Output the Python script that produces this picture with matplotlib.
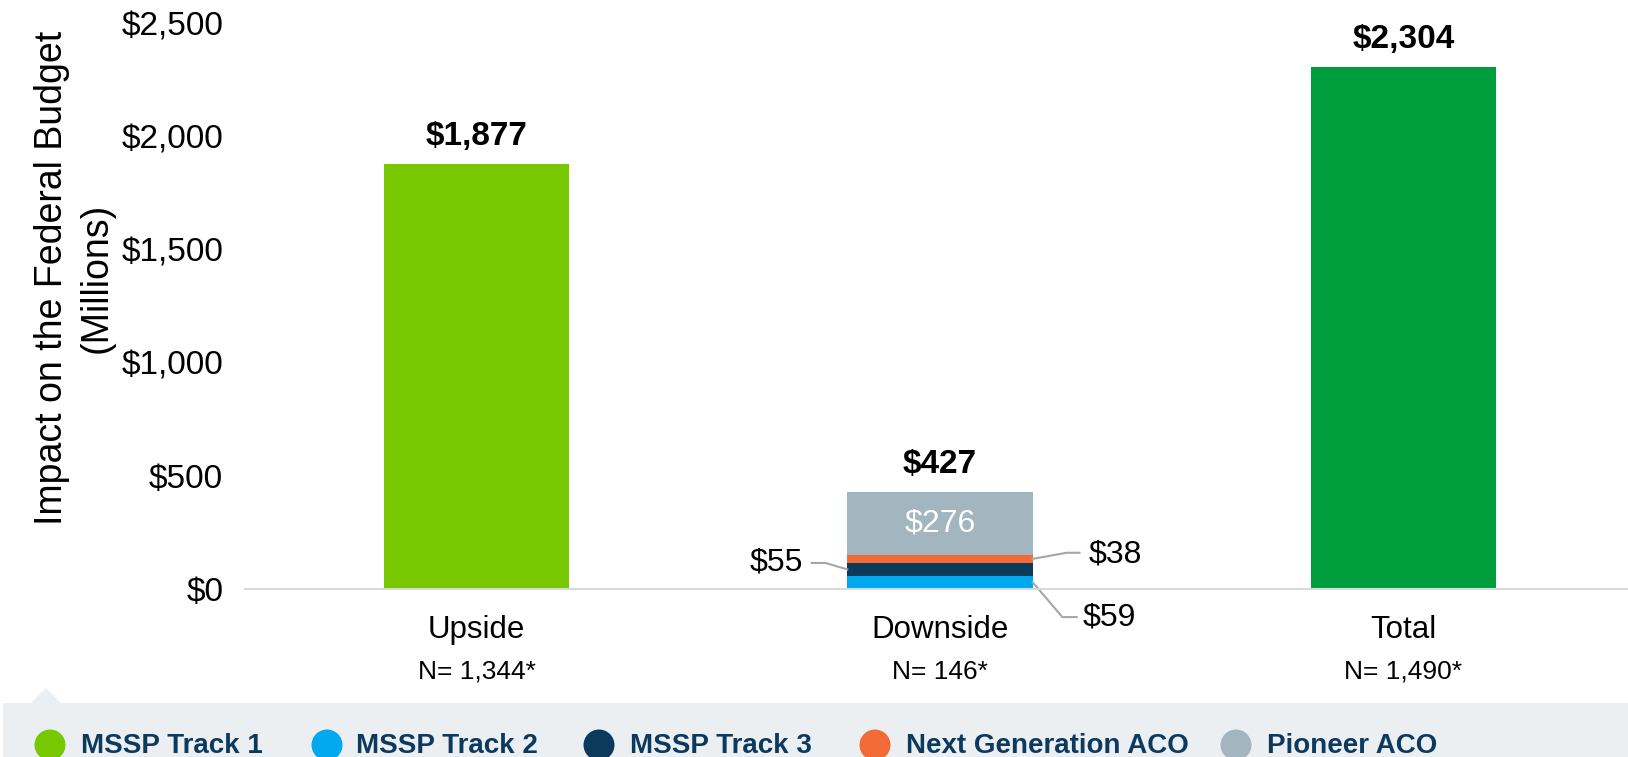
import matplotlib
matplotlib.use("Agg")
import matplotlib.pyplot as plt
from matplotlib.patches import Rectangle, Polygon, Circle

plt.rcParams['font.family'] = ['Liberation Sans', 'DejaVu Sans']

# ---------------- data ----------------
categories = ["Upside", "Downside", "Total"]
n_labels = ["N= 1,344*", "N= 146*", "N= 1,490*"]
upside_value = 1877
total_value = 2304
downside_segments = [59, 55, 38, 276]          # Track 2, Track 3, Next Gen, Pioneer
downside_total_label = "$427"
bar_total_labels = ["$1,877", "$427", "$2,304"]
segment_labels = ["$59", "$55", "$38", "$276"]
legend_names = ["MSSP Track 1", "MSSP Track 2", "MSSP Track 3",
                "Next Generation ACO", "Pioneer ACO"]
yticks = [0, 500, 1000, 1500, 2000, 2500]

# ---------------- style ----------------
c_track1 = "#77C800"
c_track2 = "#00A9EF"
c_track3 = "#0B3A5B"
c_nextgen = "#F26B36"
c_pioneer = "#A3B6BF"
c_total = "#009D3D"
legend_colors = [c_track1, c_track2, c_track3, c_nextgen, c_pioneer]
seg_colors = [c_track2, c_track3, c_nextgen, c_pioneer]
navy_text = "#0B3A5E"

W, H = 1628, 757
fig = plt.figure(figsize=(W / 100, H / 100), dpi=100)

# overlay axes in pixel coordinates for the legend panel
ov = fig.add_axes([0, 0, 1, 1], zorder=0)
ov.set_xlim(0, W)
ov.set_ylim(H, 0)
ov.axis("off")
ov.patch.set_alpha(0)

# main axes
px_per_unit = 463.5
left_px = 244.75
base_px = 589
top_px = 23
ax = fig.add_axes([left_px / W, 1 - base_px / H, 3 * px_per_unit / W,
                   (base_px - top_px) / H], zorder=1)
ax.patch.set_alpha(0)

x = list(range(len(categories)))
bw = 0.40

ax.bar(x[0], upside_value, width=bw, color=c_track1)
bottom = 0
for v, c in zip(downside_segments, seg_colors):
    ax.bar(x[1], v, width=bw, bottom=bottom, color=c)
    bottom += v
ax.bar(x[2], total_value, width=bw, color=c_total)

ax.set_xlim(-0.5, 2.5)
ax.set_ylim(0, 2500)
ax.set_yticks(yticks)
ax.set_yticklabels([f"${t:,}" for t in yticks])
ax.tick_params(axis='y', length=0, pad=15.5, labelsize=24)
ax.set_xticks([])
for s in ["top", "right", "left"]:
    ax.spines[s].set_visible(False)
ax.spines["bottom"].set_color("#D9D9D9")
ax.spines["bottom"].set_linewidth(1.5)

# bar total labels
heights = [upside_value, sum(downside_segments), total_value]
for xi, h, lab in zip(x, heights, bar_total_labels):
    ax.annotate(lab, xy=(xi, h), xytext=(0, 14), textcoords="offset points",
                ha="center", va="baseline", fontsize=24, fontweight="bold",
                annotation_clip=False)

# category labels
for xi, cat, nl in zip(x, categories, n_labels):
    ax.annotate(cat, xy=(xi, 0), xycoords=("data", "axes fraction"),
                xytext=(0, -35), textcoords="offset points", ha="center",
                va="baseline", fontsize=22.5, annotation_clip=False)
    ax.annotate(nl, xy=(xi, 0), xycoords=("data", "axes fraction"),
                xytext=(0, -64.6), textcoords="offset points", ha="center",
                va="baseline", fontsize=19, annotation_clip=False)

# downside segment labels
cum = [0]
for v in downside_segments:
    cum.append(cum[-1] + v)
mids = [(cum[i] + cum[i + 1]) / 2 for i in range(len(downside_segments))]
xl = x[1] - bw / 2
xr = x[1] + bw / 2
line_kw = dict(color="#A6A6A6", lw=1.5, clip_on=False)

# $276 inside
ax.text(x[1], mids[3], segment_labels[3], ha="center", va="center",
        fontsize=23, color="white")

# $55 (left)
y55 = 115
ax.plot([xl, xl - 0.047, xl - 0.077], [mids[1], y55, y55], **line_kw)
ax.text(xl - 0.096, y55, segment_labels[1], ha="right", va="center", fontsize=23)

# $38 (right, upper)
y38 = 160
ax.plot([xr, xr + 0.073, xr + 0.101], [mids[2], y38, y38], **line_kw)
ax.text(xr + 0.12, y38 - 8, segment_labels[2], ha="left", va="center", fontsize=23)

# $59 (right, lower)
y59 = -124
ax.plot([xr, xr + 0.064, xr + 0.095], [mids[0], y59, y59], **line_kw)
ax.text(xr + 0.107, y59, segment_labels[0], ha="left", va="center", fontsize=23)

# y axis label
fig.text(74 / W, 1 - 278 / H, "Impact on the Federal Budget\n(Millions)",
         rotation=90, ha="center", va="center", fontsize=27, linespacing=1.3,
         multialignment="center")

# legend panel
panel_top = 703
ov.add_patch(Rectangle((3, panel_top), W - 3, H - panel_top + 5,
                       facecolor="#ECEFF2", edgecolor="none"))
ov.add_patch(Polygon([(31, panel_top), (46, 688), (61, panel_top)],
                     closed=True, facecolor="#ECEFF2", edgecolor="none"))
circle_x = [50, 327, 599, 875, 1236]
text_x = [81, 356, 630, 906, 1267]
for cx, tx, name, col in zip(circle_x, text_x, legend_names, legend_colors):
    ov.add_patch(Circle((cx, 745), 15.5, facecolor=col, edgecolor="none"))
    ov.text(tx, 753, name, ha="left", va="baseline", fontsize=20,
            fontweight="bold", color=navy_text)

fig.savefig("out.png", dpi=100)
